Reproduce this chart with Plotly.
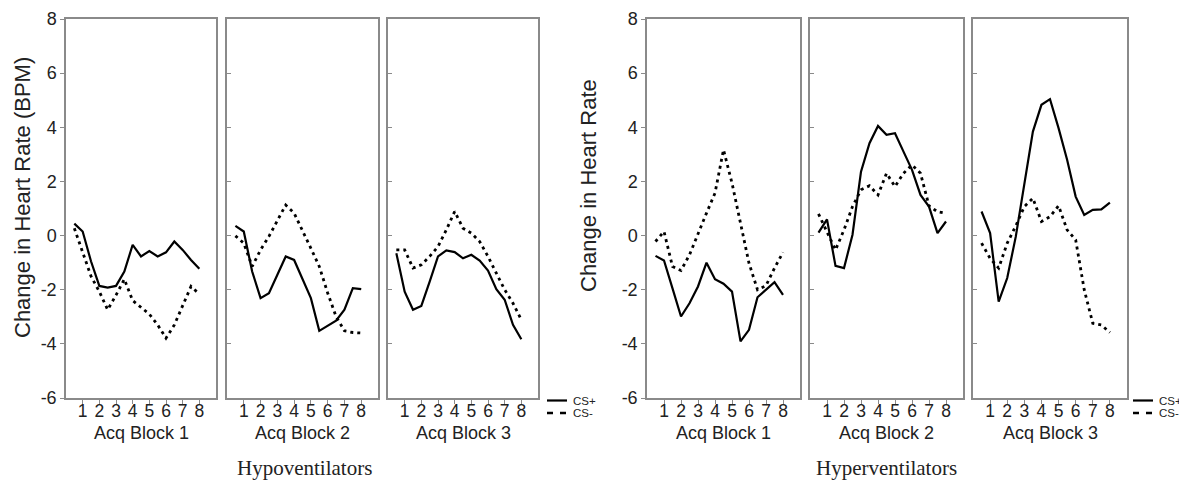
import plotly.graph_objects as go

# The page has an 8px body margin; the figure is sized so it ends at the window edge.
PAGE_W, PAGE_H = 1187, 482
OFF = 8
W, H = PAGE_W - OFF, PAGE_H - OFF

trial_pos = [0.5, 1, 1.5, 2, 2.5, 3, 3.5, 4, 4.5, 5, 5.5, 6, 6.5, 7, 7.5, 8]
x_ticks = [1, 2, 3, 4, 5, 6, 7, 8]
y_ticks = [-6, -4, -2, 0, 2, 4, 6, 8]
y_tick_text = ["-6", "-4", "-2", "0", "2", "4", "6", "8"]

# Hypoventilators
hypo_b1_csp = [0.44, 0.15, -0.95, -1.86, -1.92, -1.86, -1.33, -0.34, -0.77, -0.57, -0.77, -0.62, -0.22, -0.53, -0.90, -1.23]
hypo_b1_csm = [0.27, -0.60, -1.50, -2.07, -2.74, -2.20, -1.61, -2.40, -2.65, -2.90, -3.30, -3.79, -3.30, -2.60, -1.88, -2.16]
hypo_b2_csp = [0.36, 0.15, -1.33, -2.31, -2.13, -1.45, -0.77, -0.90, -1.64, -2.31, -3.52, -3.33, -3.14, -2.74, -1.94, -1.98]
hypo_b2_csm = [-0.01, -0.28, -1.14, -0.53, -0.03, 0.58, 1.13, 0.83, 0.21, -0.47, -1.14, -2.12, -2.99, -3.52, -3.58, -3.60]
hypo_b3_csp = [-0.65, -2.07, -2.74, -2.60, -1.70, -0.77, -0.55, -0.61, -0.84, -0.71, -0.92, -1.29, -1.98, -2.37, -3.30, -3.83]
hypo_b3_csm = [-0.53, -0.53, -1.20, -1.08, -0.77, -0.41, 0.21, 0.89, 0.27, 0.09, -0.22, -0.77, -1.39, -2.00, -2.50, -3.11]

# Hyperventilators
hyper_b1_csp = [-0.75, -0.92, -1.95, -2.99, -2.50, -1.88, -1.00, -1.61, -1.78, -2.07, -3.91, -3.48, -2.28, -2.00, -1.72, -2.19]
hyper_b1_csm = [-0.22, 0.15, -1.14, -1.29, -0.71, 0.09, 0.83, 1.57, 3.17, 1.94, 0.46, -1.02, -2.00, -1.85, -1.20, -0.62]
hyper_b2_csp = [0.11, 0.60, -1.12, -1.20, 0.03, 2.36, 3.41, 4.05, 3.72, 3.78, 3.10, 2.43, 1.50, 1.07, 0.09, 0.52]
hyper_b2_csm = [0.80, 0.15, -0.53, 0.21, 1.07, 1.69, 1.84, 1.50, 2.30, 1.81, 2.30, 2.61, 2.30, 1.10, 0.88, 0.82]
hyper_b3_csp = [0.89, 0.09, -2.44, -1.57, -0.04, 1.87, 3.84, 4.83, 5.04, 3.97, 2.80, 1.44, 0.76, 0.95, 0.97, 1.22]
hyper_b3_csm = [-0.28, -0.84, -1.20, -0.28, 0.36, 1.07, 1.38, 0.52, 0.70, 1.10, 0.21, -0.16, -2.00, -3.24, -3.30, -3.58]

block_labels = ["Acq Block 1", "Acq Block 2", "Acq Block 3"]
group_labels = ["Hypoventilators", "Hyperventilators"]
y_titles = ["Change in Heart Rate (BPM)", "Change in Heart Rate"]
series_names = ["CS+", "CS-"]

panels = [
    (hypo_b1_csp, hypo_b1_csm), (hypo_b2_csp, hypo_b2_csm), (hypo_b3_csp, hypo_b3_csm),
    (hyper_b1_csp, hyper_b1_csm), (hyper_b2_csp, hyper_b2_csm), (hyper_b3_csp, hyper_b3_csm),
]


def px(xp):
    return (xp - OFF) / W


def py(yp):
    return 1 - (yp - OFF) / H


# panel pixel extents (page coordinates)
px_lr = [(66, 216), (227, 378), (388, 538), (647, 800), (810, 963), (973, 1127)]
top_px, bot_px = 19, 398
ydom = [py(bot_px), py(top_px)]

AX_COL = "#8a8a8a"
TXT = "#222222"
FONT = "Liberation Sans, Arial, sans-serif"
SERIF = "Liberation Serif, Times New Roman, serif"
SOLID = dict(color="black", width=2.2)
DOTTED = dict(color="black", width=2.8, dash="3px,4px")
LEG_DASH = dict(color="black", width=2.4, dash="6px,7px")

fig = go.Figure()
for i, ((csp, csm), (l, r)) in enumerate(zip(panels, px_lr)):
    n = i + 1
    xa = "x" if n == 1 else f"x{n}"
    ya = "y" if n == 1 else f"y{n}"
    fig.add_trace(go.Scatter(x=trial_pos, y=csp, mode="lines", name=series_names[0],
                             line=SOLID, xaxis=xa, yaxis=ya, showlegend=False))
    fig.add_trace(go.Scatter(x=trial_pos, y=csm, mode="lines", name=series_names[1],
                             line=DOTTED, xaxis=xa, yaxis=ya, showlegend=False))
    first = (i % 3 == 0)
    xkey = "xaxis" if n == 1 else f"xaxis{n}"
    ykey = "yaxis" if n == 1 else f"yaxis{n}"
    fig.layout[xkey] = dict(domain=[px(l), px(r)], range=[0, 9], tickvals=x_ticks,
                            ticks="outside", ticklen=4, tickcolor=AX_COL,
                            ticklabelstandoff=-8,
                            showline=True, linecolor=AX_COL, linewidth=1.5, mirror=True,
                            showgrid=False, zeroline=False, anchor=ya, automargin=False,
                            tickfont=dict(size=17.5, color=TXT, family=FONT), fixedrange=True)
    fig.layout[ykey] = dict(domain=ydom, range=[-6, 8], tickvals=y_ticks, ticktext=y_tick_text,
                            ticks="outside" if first else "inside", ticklen=4, tickcolor=AX_COL,
                            showticklabels=first,
                            showline=True, linecolor=AX_COL, linewidth=1.5, mirror=True,
                            showgrid=False, zeroline=False, anchor=xa, automargin=False,
                            tickfont=dict(size=18, color=TXT, family=FONT), fixedrange=True)
    fig.add_annotation(text=block_labels[i % 3], x=px((l + r) / 2), y=py(433),
                       xref="paper", yref="paper", showarrow=False,
                       font=dict(size=18, color=TXT, family=FONT), xanchor="center", yanchor="middle")

fig.add_annotation(text=group_labels[0], x=px(305), y=py(468), xref="paper", yref="paper",
                   showarrow=False, font=dict(size=21, color=TXT, family=SERIF),
                   xanchor="center", yanchor="middle")
fig.add_annotation(text=group_labels[1], x=px(887), y=py(468), xref="paper", yref="paper",
                   showarrow=False, font=dict(size=21, color=TXT, family=SERIF),
                   xanchor="center", yanchor="middle")
fig.add_annotation(text=y_titles[0], x=px(22), y=py(198), xref="paper", yref="paper", textangle=-90,
                   showarrow=False, font=dict(size=22, color=TXT, family=FONT), xanchor="center", yanchor="middle")
fig.add_annotation(text=y_titles[1], x=px(588), y=py(186), xref="paper", yref="paper", textangle=-90,
                   showarrow=False, font=dict(size=22, color=TXT, family=FONT), xanchor="center", yanchor="middle")

# legends (one per group): short line sample + label
for lx in (547, 1133):
    for name, style, ly in ((series_names[0], SOLID, 400.5), (series_names[1], LEG_DASH, 413)):
        fig.add_shape(type="line", xref="paper", yref="paper", x0=px(lx), x1=px(lx + 20),
                      y0=py(ly), y1=py(ly), line=style)
        fig.add_annotation(text=name, x=px(lx + 24), y=py(ly), xref="paper", yref="paper",
                           showarrow=False, xanchor="left", yanchor="middle",
                           font=dict(size=11.5, color=TXT, family=FONT))

fig.update_layout(
    width=W, height=H, margin=dict(l=0, r=0, t=0, b=0, autoexpand=False),
    paper_bgcolor="white", plot_bgcolor="white", showlegend=False,
)

fig.write_html("out.html")
